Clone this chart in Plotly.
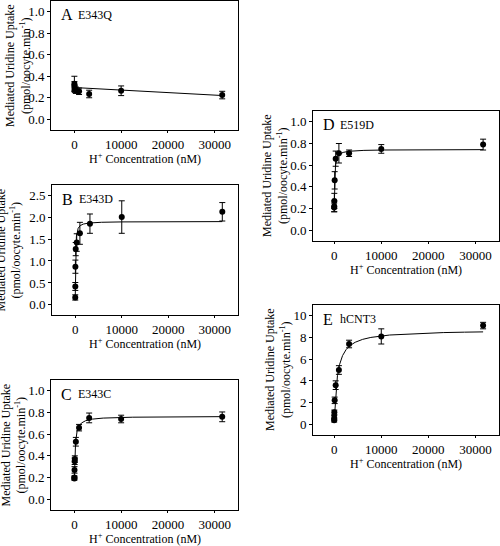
import numpy as np
import plotly.graph_objects as go

# H+ concentrations (nM), pH 8.5 ... 4.5
h_conc = [3.16, 10, 31.6, 100, 316, 1000, 3162, 10000, 31623]

# Panel A: E343Q (linear fit)
a_vals = [0.33, 0.31, 0.29, 0.28, 0.27, 0.26, 0.235, 0.265, 0.225]
a_err = [0.07, 0.04, 0.03, 0.03, 0.03, 0.03, 0.035, 0.045, 0.035]
a_intercept, a_slope = 0.295, -2.35e-6

# Panel B: E343D (baseline, plateau, K)
b_vals = [0.17, 0.42, 0.87, 1.27, 1.42, 1.63, 1.85, 2.00, 2.12]
b_err = [0.06, 0.09, 0.15, 0.15, 0.20, 0.25, 0.22, 0.37, 0.21]
b_fit = (0.12, 1.90, 60)

# Panel C: E343C
c_x = [3.16, 10, 31.6, 63, 100, 316, 1000, 3162, 10000, 31623]
c_vals = [0.19, 0.20, 0.27, 0.35, 0.37, 0.53, 0.66, 0.75, 0.74, 0.76]
c_err = [0.015, 0.015, 0.03, 0.03, 0.03, 0.04, 0.03, 0.045, 0.035, 0.045]
c_fit = (0.18, 0.765, 180)

# Panel D: E519D
d_vals = [0.21, 0.22, 0.27, 0.46, 0.66, 0.71, 0.71, 0.75, 0.79]
d_err = [0.04, 0.05, 0.07, 0.08, 0.07, 0.09, 0.03, 0.04, 0.05]
d_fit = (0.20, 0.745, 100)

# Panel E: hCNT3
e_vals = [0.35, 0.6, 1.1, 2.2, 3.6, 5.0, 7.4, 8.1, 9.1]
e_err = [0.15, 0.2, 0.2, 0.3, 0.4, 0.4, 0.35, 0.7, 0.3]
e_fit = (0.3, 8.7, 700)

panel_letters = ["A", "B", "C", "D", "E"]
panel_names = ["E343Q", "E343D", "E343C", "E519D", "hCNT3"]
x_ticks = [0, 10000, 20000, 30000]

FONT = "Liberation Serif"
W, H = 500, 546

xfit = np.concatenate([np.linspace(3.16, 1000, 400), np.linspace(1000, 31623, 1600)])

def mm(params):
    y0, v, k = params
    return y0 + (v - y0) * xfit / (k + xfit)

xlin = np.linspace(0, 31623, 50)

panels = [
    dict(x=h_conc, y=a_vals, e=a_err, fx=xlin, fit=a_intercept + a_slope * xlin,
         box=(51, 1, 238, 130), yr=[-0.1, 1.1], yt=[0, 0.2, 0.4, 0.6, 0.8, 1.0], fmt=".1f",
         ytx=17.5, xtr=[-5000, 35000]),
    dict(x=h_conc, y=b_vals, e=b_err, fx=xfit, fit=mm(b_fit),
         box=(52, 185, 238, 315), yr=[-0.23, 2.73], yt=[0, 0.5, 1.0, 1.5, 2.0, 2.5], fmt=".1f",
         ytx=8.5, xtr=[-5000, 35000]),
    dict(x=c_x, y=c_vals, e=c_err, fx=xfit, fit=mm(c_fit),
         box=(51, 380, 238, 510), yr=[-0.1, 1.1], yt=[0, 0.2, 0.4, 0.6, 0.8, 1.0], fmt=".1f",
         ytx=13.5, xtr=[-5000, 35000]),
    dict(x=h_conc, y=d_vals, e=d_err, fx=xfit, fit=mm(d_fit),
         box=(313, 111, 499, 241), yr=[-0.1, 1.1], yt=[0, 0.2, 0.4, 0.6, 0.8, 1.0], fmt=".1f",
         ytx=275, xtr=[-4500, 35000]),
    dict(x=h_conc, y=e_vals, e=e_err, fx=xfit, fit=mm(e_fit),
         box=(313, 305, 499, 435), yr=[-1, 11], yt=[0, 2, 4, 6, 8, 10], fmt="d",
         ytx=278, xtr=[-4500, 35000]),
]

fig = go.Figure()
layout = dict(width=W, height=H, margin=dict(l=0, r=0, t=0, b=0),
              paper_bgcolor="white", plot_bgcolor="white", showlegend=False,
              font=dict(family=FONT, color="black", size=13))
annotations = []

for i, p in enumerate(panels):
    n = "" if i == 0 else str(i + 1)
    xa, ya = "x" + n, "y" + n
    l, t, r, b = p["box"]
    fig.add_trace(go.Scatter(x=p["fx"], y=p["fit"], mode="lines",
                             line=dict(color="black", width=1),
                             xaxis=xa, yaxis=ya, hoverinfo="skip"))
    fig.add_trace(go.Scatter(x=p["x"], y=p["y"], mode="markers",
                             marker=dict(color="black", size=6),
                             error_y=dict(type="data", array=p["e"], color="black",
                                          thickness=1, width=3),
                             xaxis=xa, yaxis=ya))
    layout["xaxis" + n] = dict(domain=[l / W, r / W], anchor=ya, range=p["xtr"],
                               tickvals=x_ticks, ticktext=[str(v) for v in x_ticks],
                               showline=True, mirror=True, linecolor="black", linewidth=1,
                               ticks="outside", ticklen=2, tickcolor="black",
                               showgrid=False, zeroline=False,
                               tickfont=dict(family=FONT, size=13))
    layout["yaxis" + n] = dict(domain=[1 - b / H, 1 - t / H], anchor=xa, range=p["yr"],
                               tickvals=p["yt"], tickformat=p["fmt"],
                               showline=True, mirror=True, linecolor="black", linewidth=1,
                               ticks="outside", ticklen=3, tickcolor="black",
                               showgrid=False, zeroline=False,
                               tickfont=dict(family=FONT, size=13))
    annotations.append(dict(xref=xa + " domain", yref=ya + " domain", x=0.045, y=1 - 14 / (b - t),
                            text=panel_letters[i], showarrow=False, xanchor="left", yanchor="middle",
                            font=dict(family=FONT, size=16)))
    annotations.append(dict(xref=xa + " domain", yref=ya + " domain", x=0.135, y=1 - 14 / (b - t),
                            text=panel_names[i], showarrow=False, xanchor="left", yanchor="middle",
                            font=dict(family=FONT, size=12)))
    annotations.append(dict(xref="paper", yref="paper", x=(l + r) / 2 / W, y=1 - (b + 28) / H,
                            text="H<sup>+</sup> Concentration (nM)", showarrow=False,
                            xanchor="center", yanchor="middle", font=dict(family=FONT, size=12)))
    annotations.append(dict(xref="paper", yref="paper", x=p["ytx"] / W, y=1 - (t + b) / 2 / H,
                            text="Mediated Uridine Uptake<br>(pmol/oocyte.min<sup>-1</sup>)",
                            showarrow=False, textangle=-90, xanchor="center", yanchor="middle",
                            font=dict(family=FONT, size=12)))

layout["annotations"] = annotations
fig.update_layout(**layout)
fig.write_html("out.html", config={"displayModeBar": False},
               post_script="document.body.style.margin='0px';document.body.style.padding='0px';")
